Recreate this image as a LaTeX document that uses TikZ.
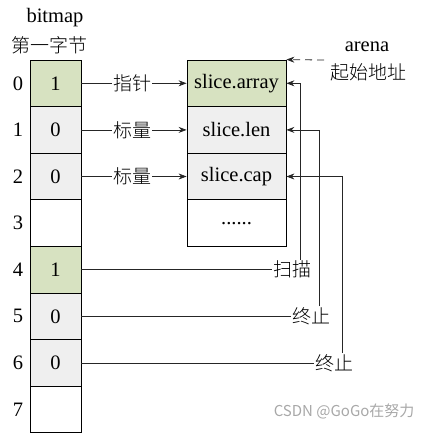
\documentclass[tikz,border=0pt]{standalone}
\usepackage{fontspec}
\setmainfont{Liberation Serif}
\newfontfamily\cjk{Noto Sans CJK SC Light}
\newfontfamily\cjkwm{Noto Sans CJK SC}
\usetikzlibrary{arrows.meta}
\definecolor{cellgreen}{HTML}{D7E2C1}
\definecolor{cellgray}{HTML}{EFEFEF}
\definecolor{wmgray}{HTML}{A8A8A8}
\begin{document}
\begin{tikzpicture}[x=1pt,y=1pt,
  bcell/.style={draw=black, line width=0.8pt, minimum width=51pt, minimum height=46.6pt, inner sep=0pt, font=\fontsize{20.5}{22}\selectfont},
  scell/.style={draw=black, line width=0.8pt, minimum width=99pt, minimum height=46.6pt, inner sep=0pt, font=\fontsize{20.5}{22}\selectfont},
  rownum/.style={font=\fontsize{20.5}{22}\selectfont, inner sep=0pt},
  lbl/.style={font=\cjk\fontsize{19}{21}\selectfont, inner sep=1pt},
  conn/.style={draw=black!85, line width=0.8pt},
  arr/.style={conn, -{Stealth[length=8pt,width=6pt]}}]
\useasboundingbox (0,0) rectangle (423,-434);
% titles
\node[font=\fontsize{20.5}{22}\selectfont] (tbit) at (55,-18) {bitmap};
\node[lbl] (tbyte) at (50,-45) {第一字节};
% bitmap cells
\node[bcell, fill=cellgreen] (b0) at (55.5,-83.3) {1};
\node[bcell, fill=cellgray] (b1) at (55.5,-129.9) {0};
\node[bcell, fill=cellgray] (b2) at (55.5,-176.5) {0};
\node[bcell] (b3) at (55.5,-223.1) {};
\node[bcell, fill=cellgreen] (b4) at (55.5,-269.7) {1};
\node[bcell, fill=cellgray] (b5) at (55.5,-316.3) {0};
\node[bcell, fill=cellgray] (b6) at (55.5,-362.9) {0};
\node[bcell] (b7) at (55.5,-409.5) {};
% row numbers
\node[rownum] (n0) at (18,-83.3) {0};
\node[rownum] (n1) at (18,-129.9) {1};
\node[rownum] (n2) at (18,-176.5) {2};
\node[rownum] (n3) at (18,-223.1) {3};
\node[rownum] (n4) at (18,-269.7) {4};
\node[rownum] (n5) at (18,-316.3) {5};
\node[rownum] (n6) at (18,-362.9) {6};
\node[rownum] (n7) at (18,-409.5) {7};
% slice cells
\node[scell, fill=cellgreen] (s0) at (236.5,-83.3) {slice.array};
\node[scell, fill=cellgray] (s1) at (236.5,-129.9) {slice.len};
\node[scell, fill=cellgray] (s2) at (236.5,-176.5) {slice.cap};
\node[scell] (s3) at (236.5,-223.1) {......};
% arena
\node[font=\fontsize{20.5}{22}\selectfont] (arenaA) at (367,-47) {arena};
\node[lbl] (arenaB) at (368,-72) {起始地址};
\coordinate (ad) at (324,-60);
\draw[arr, dash pattern=on 7pt off 5pt] (ad) -- (s0.north east);
% forward labels
\node[lbl] (l0) at (132,-83.3) {指针};
\node[lbl] (l1) at (132,-129.9) {标量};
\node[lbl] (l2) at (132,-176.5) {标量};
\draw[conn] (b0.east) -- (l0.west);
\draw[arr] (l0.east) -- (s0.west);
\draw[conn] (b1.east) -- (l1.west);
\draw[arr] (l1.east) -- (s1.west);
\draw[conn] (b2.east) -- (l2.west);
\draw[arr] (l2.east) -- (s2.west);
% return labels
\node[lbl] (r4) at (292,-269.7) {扫描};
\node[lbl] (r5) at (311,-316.3) {终止};
\node[lbl] (r6) at (334,-362.9) {终止};
\coordinate (v4) at (300,0);
\coordinate (v5) at (319,0);
\coordinate (v6) at (342,0);
\draw[conn] (b4.east) -- (r4.west);
\draw[conn] (b5.east) -- (r5.west);
\draw[conn] (b6.east) -- (r6.west);
\draw[arr] (v4 |- r4.north) |- (s0.east);
\draw[arr] (v5 |- r5.north) |- (s1.east);
\draw[arr] (v6 |- r6.north) |- (s2.east);
% watermark
\node[font=\cjkwm\fontsize{15}{16}\selectfont, text=wmgray, anchor=east] (wm) at (418,-411) {CSDN @GoGo在努力};
\end{tikzpicture}
\end{document}
